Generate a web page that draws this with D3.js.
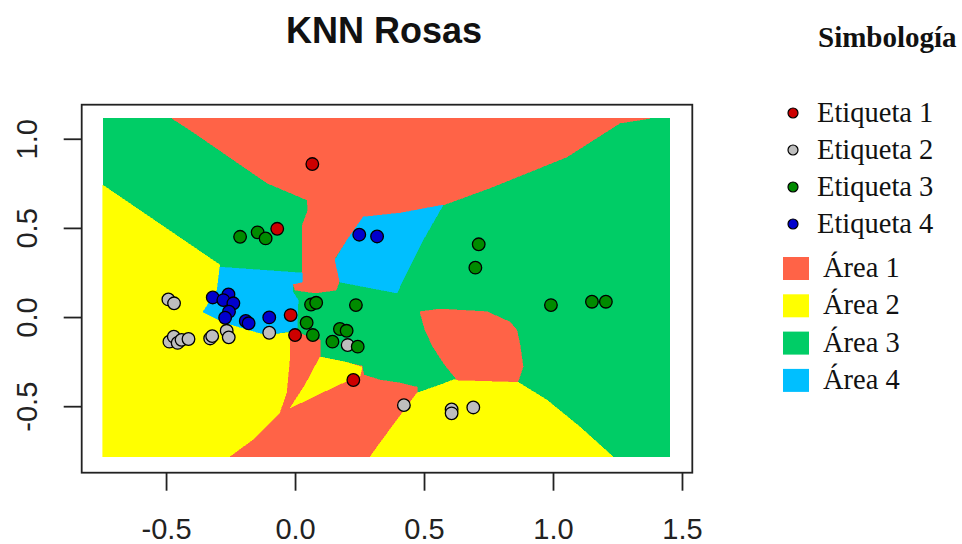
<!DOCTYPE html>
<html>
<head>
<meta charset="utf-8">
<script src="https://cdn.jsdelivr.net/npm/d3@7/dist/d3.min.js"></script>
<style>
  html, body { margin: 0; padding: 0; background: #fff; }
  svg { display: block; }
</style>
</head>
<body>
<svg id="chart" width="962" height="544"></svg>
<script>
// ---------------- DATA ----------------
const title = "KNN Rosas";
const legendTitle = "Simbología";
const xTicks = [-0.5, 0.0, 0.5, 1.0, 1.5];
const yTicks = [-0.5, 0.0, 0.5, 1.0];
const xLim = [-0.827, 1.540];
const yLim = [-0.873, 1.191];
const gridX = [-0.745, 1.453];
const gridY = [-0.784, 1.114];

const pointLabels = ["Etiqueta 1", "Etiqueta 2", "Etiqueta 3", "Etiqueta 4"];
const areaLabels = ["Área 1", "Área 2", "Área 3", "Área 4"];

// observed points per label  [x, y]
const label1 = [[0.067, 0.858], [-0.069, 0.495], [-0.017, 0.011], [0.000, -0.101], [0.226, -0.353]];
const label2 = [[-0.491, 0.099], [-0.469, 0.077], [-0.487, -0.138], [-0.470, -0.110], [-0.455, -0.145],
                [-0.440, -0.128], [-0.413, -0.123], [-0.329, -0.120], [-0.321, -0.107], [-0.265, -0.077],
                [-0.257, -0.114], [-0.100, -0.088], [0.204, -0.157], [0.422, -0.494], [0.607, -0.518],
                [0.607, -0.540], [0.691, -0.507]];
const label3 = [[-0.213, 0.450], [-0.145, 0.475], [-0.114, 0.441], [0.712, 0.408], [0.699, 0.277],
                [0.062, 0.070], [0.082, 0.080], [0.236, 0.067], [0.045, -0.032], [0.069, -0.101],
                [0.174, -0.067], [0.200, -0.077], [0.145, -0.138], [0.243, -0.166], [0.992, 0.067],
                [1.151, 0.086], [1.205, 0.086]];
const label4 = [[0.249, 0.462], [0.318, 0.452], [-0.319, 0.110], [-0.258, 0.127], [-0.278, 0.095],
                [-0.239, 0.077], [-0.256, 0.030], [-0.271, -0.004], [-0.191, -0.022], [-0.180, -0.035],
                [-0.100, -0.002]];

// predicted class areas (polygons in data units)
const area1Top = [[-0.477, 1.114], [1.376, 1.114], [1.260, 1.088], [1.054, 0.898], [0.756, 0.724],
  [0.574, 0.628], [0.407, 0.583], [0.264, 0.561], [0.202, 0.432], [0.155, 0.331], [0.174, 0.208],
  [0.159, 0.151], [0.078, 0.135], [0.000, 0.151], [-0.008, 0.191], [0.027, 0.252], [0.027, 0.510],
  [0.050, 0.600], [0.047, 0.656], [-0.109, 0.752], [-0.407, 1.049]];
const area4Upper = [[0.264, 0.561], [0.407, 0.583], [0.574, 0.628], [0.496, 0.432], [0.419, 0.208],
  [0.395, 0.135], [0.174, 0.196], [0.155, 0.320], [0.202, 0.432]];
const area2Left = [[-0.745, 0.740], [-0.291, 0.292], [-0.302, 0.151], [-0.357, 0.028], [-0.279, -0.028],
  [-0.202, -0.062], [-0.109, -0.101], [-0.008, -0.084], [-0.008, -0.112], [-0.019, -0.241],
  [-0.031, -0.426], [-0.058, -0.538], [-0.163, -0.690], [-0.252, -0.784], [-0.745, -0.784]];
const area4Left = [[-0.291, 0.280], [0.027, 0.247], [0.027, 0.196], [-0.008, 0.185], [-0.008, 0.140],
  [0.012, 0.095], [0.008, -0.073], [-0.109, -0.101], [-0.202, -0.062], [-0.279, -0.028],
  [-0.357, 0.028], [-0.302, 0.151]];
const area1Lower = [[-0.019, -0.101], [0.008, -0.079], [0.043, -0.107], [0.097, -0.129], [0.097, -0.224],
  [0.260, -0.275], [0.267, -0.325], [0.329, -0.353], [0.407, -0.370], [0.473, -0.393], [0.473, -0.426],
  [0.329, -0.707], [0.291, -0.784], [-0.252, -0.784], [-0.163, -0.690], [-0.058, -0.538],
  [-0.031, -0.426], [-0.019, -0.241]];
const area2Small = [[0.097, -0.224], [0.194, -0.252], [0.260, -0.280], [0.252, -0.331], [0.174, -0.376],
  [-0.019, -0.510], [0.039, -0.381]];
const area2Right = [[0.291, -0.784], [0.329, -0.707], [0.473, -0.426], [0.562, -0.381], [0.612, -0.353],
  [0.678, -0.348], [0.864, -0.365], [0.977, -0.466], [1.105, -0.617], [1.233, -0.784]];
const area1Right = [[0.484, 0.030], [0.562, 0.045], [0.744, 0.030], [0.833, -0.028], [0.860, -0.073],
  [0.872, -0.157], [0.884, -0.279], [0.864, -0.363], [0.628, -0.353], [0.581, -0.269],
  [0.535, -0.168], [0.504, -0.073]];

const areaColors = ["#FF6347", "#FFFF00", "#00CD66", "#00BFFF"];
const pointColors = ["#CD0000", "#BEBEBE", "#008B00", "#0000CD"];

// ---------------- DRAW ----------------
const svg = d3.select("#chart");
const x = d3.scaleLinear().domain(xLim).range([81.7, 692.3]);
const y = d3.scaleLinear().domain(yLim).range([472.7, 104.7]);

// title
svg.append("text").attr("x", 384).attr("y", 43).attr("text-anchor", "middle")
  .style("font-family", "'Liberation Sans', Arial, sans-serif").style("font-weight", "bold")
  .style("font-size", "36px").attr("fill", "#111").text(title);

// areas
const gA = svg.append("g").attr("shape-rendering", "crispEdges");
gA.append("rect")
  .attr("x", x(gridX[0])).attr("y", y(gridY[1]))
  .attr("width", x(gridX[1]) - x(gridX[0])).attr("height", y(gridY[0]) - y(gridY[1]))
  .attr("fill", areaColors[2]);
const line = d3.line().x(d => x(d[0])).y(d => y(d[1])).curve(d3.curveLinearClosed);
const polys = [
  [area1Top, 0], [area4Upper, 3], [area2Left, 1], [area4Left, 3],
  [area1Lower, 0], [area2Small, 1], [area2Right, 1], [area1Right, 0]
];
gA.selectAll("path.area").data(polys).join("path").attr("class", "area")
  .attr("d", d => line(d[0])).attr("fill", d => areaColors[d[1]])
  .attr("stroke", d => areaColors[d[1]]).attr("stroke-width", 0.6);

// points
const series = [label1, label2, label3, label4];
series.forEach((pts, i) => {
  svg.append("g").selectAll("circle").data(pts).join("circle")
    .attr("cx", d => x(d[0])).attr("cy", d => y(d[1])).attr("r", 6.3)
    .attr("fill", pointColors[i]).attr("stroke", "#000").attr("stroke-width", 1.3);
});

// box
svg.append("rect").attr("x", x(xLim[0])).attr("y", y(yLim[1]))
  .attr("width", x(xLim[1]) - x(xLim[0])).attr("height", y(yLim[0]) - y(yLim[1]))
  .attr("fill", "none").attr("stroke", "#222").attr("stroke-width", 1.8);

// axes
const fmt = v => d3.format(".1f")(v).replace("\u2212", "-");
const gx = svg.append("g").attr("transform", `translate(0,${y(yLim[0])})`)
  .call(d3.axisBottom(x).tickValues(xTicks).tickFormat(fmt).tickSize(18).tickPadding(28));
gx.select(".domain").remove();
gx.selectAll(".tick line").attr("stroke", "#222").attr("stroke-width", 1.8);
gx.selectAll(".tick text").attr("fill", "#222")
  .style("font-family", "'Liberation Sans', Arial, sans-serif").style("font-size", "29px");

const gy = svg.append("g").attr("transform", `translate(${x(xLim[0])},0)`)
  .call(d3.axisLeft(y).tickValues(yTicks).tickFormat(fmt).tickSize(18));
gy.select(".domain").remove();
gy.selectAll(".tick line").attr("stroke", "#222").attr("stroke-width", 1.8);
gy.selectAll(".tick text").attr("fill", "#222")
  .attr("transform", "rotate(-90)").attr("x", 0).attr("y", -44.7).attr("dy", 0)
  .attr("text-anchor", "middle")
  .style("font-family", "'Liberation Sans', Arial, sans-serif").style("font-size", "29px");

// legend
const serif = "'Liberation Serif', 'Times New Roman', serif";
svg.append("text").attr("x", 818).attr("y", 47).style("font-family", serif)
  .style("font-weight", "bold").style("font-size", "29px").attr("fill", "#111").text(legendTitle);
const lg = svg.append("g");
pointLabels.forEach((lab, i) => {
  const cy = 113 + i * 37;
  lg.append("circle").attr("cx", 793).attr("cy", cy).attr("r", 5)
    .attr("fill", pointColors[i]).attr("stroke", "#000").attr("stroke-width", 1.2);
  lg.append("text").attr("x", 817).attr("y", cy + 9).style("font-family", serif)
    .style("font-size", "28.5px").attr("fill", "#111").text(lab);
});
areaLabels.forEach((lab, i) => {
  const cy = 268.5 + i * 37.3;
  lg.append("rect").attr("x", 783).attr("y", cy - 11.5).attr("width", 26).attr("height", 23)
    .attr("fill", areaColors[i]);
  lg.append("text").attr("x", 823).attr("y", cy + 8.5).style("font-family", serif)
    .style("font-size", "28.5px").attr("fill", "#111").text(lab);
});
</script>
</body>
</html>
